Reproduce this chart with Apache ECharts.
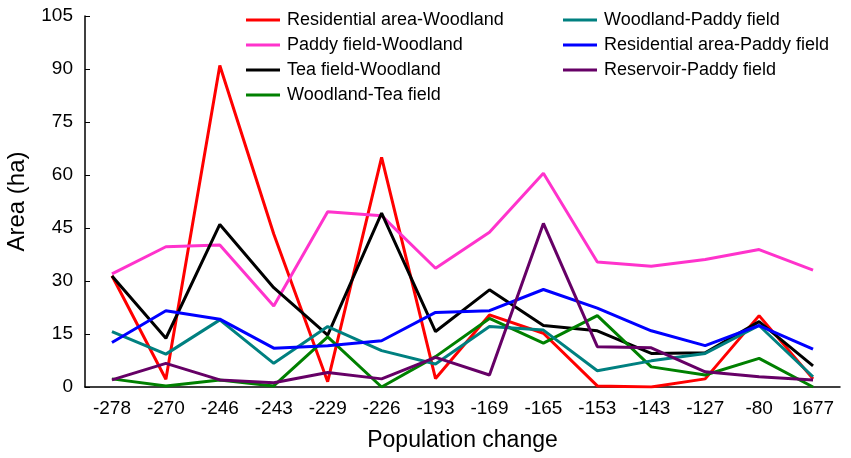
<!DOCTYPE html>
<html>
<head>
<meta charset="utf-8">
<script src="https://cdn.jsdelivr.net/npm/echarts@6/dist/echarts.min.js"></script>
<style>
  html, body { margin: 0; padding: 0; background: #fff; }
  #chart { width: 851px; height: 458px; }
</style>
</head>
<body>
<div id="chart"></div>
<script>
// Population change categories on the x axis
const categories = ['-278', '-270', '-246', '-243', '-229', '-226', '-193', '-169', '-165', '-153', '-143', '-127', '-80', '1677'];

// Area (ha) of each land-use transition
const residentialWoodland = [31.5, 2.2, 91, 43.3, 1.5, 65, 2.4, 20.4, 15.2, 0.3, 0, 2.3, 20.2, 2.3];
const paddyWoodland       = [32, 39.7, 40.2, 22.9, 49.6, 48.5, 33.6, 43.8, 60.5, 35.4, 34.2, 36.1, 38.9, 33.1];
const teaWoodland         = [31.4, 13.8, 46, 28.1, 14.7, 49.2, 15.7, 27.5, 17.4, 15.9, 9.5, 9.7, 18.5, 6];
const woodlandTea         = [2.3, 0.3, 2, 0.3, 14.2, 0, 8.6, 19.4, 12.4, 20.2, 5.7, 3.4, 8.1, 0];
const woodlandPaddy       = [15.7, 9.3, 19, 6.7, 17.1, 10.3, 6.5, 17.1, 16.1, 4.6, 7.4, 9.5, 17.4, 2.9];
const residentialPaddy    = [12.6, 21.6, 19.2, 11, 11.7, 13.1, 21.1, 21.6, 27.6, 22.3, 15.9, 11.7, 17.4, 10.7];
const reservoirPaddy      = [2, 6.7, 2, 1.2, 4.1, 2.3, 8.4, 3.4, 46.3, 11.4, 11.1, 4.3, 2.9, 2];

const yTicks = { min: 0, max: 105, interval: 15 };

const FONT = 'Liberation Sans';

const seriesDefs = [
  { name: 'Residential area-Woodland', data: residentialWoodland, color: '#ff0000' },
  { name: 'Paddy field-Woodland', data: paddyWoodland, color: '#ff33cc' },
  { name: 'Tea field-Woodland', data: teaWoodland, color: '#000000' },
  { name: 'Woodland-Tea field', data: woodlandTea, color: '#008000' },
  { name: 'Woodland-Paddy field', data: woodlandPaddy, color: '#008080' },
  { name: 'Residential area-Paddy field', data: residentialPaddy, color: '#0000ff' },
  { name: 'Reservoir-Paddy field', data: reservoirPaddy, color: '#660066' }
];

// Legend key: a short horizontal stroke centred in a 34x16 box
// (tiny corner specks pin the bounding box so the stroke keeps its thickness)
const strokeIcon = 'path://M0,0L0.02,0L0,0.02Z M0,6.5H34V9.5H0Z M34,16L33.98,16L34,15.98Z';

const legendBase = {
  orient: 'vertical',
  top: 11,
  padding: 0,
  icon: strokeIcon,
  itemWidth: 34,
  itemHeight: 16,
  itemGap: 7,
  textStyle: { fontFamily: FONT, fontSize: 18, color: '#000', padding: [0, 0, 0, 2] },
  selectedMode: false
};

const chart = echarts.init(document.getElementById('chart'), null, { renderer: 'canvas' });

chart.setOption({
  animation: false,
  backgroundColor: '#ffffff',
  legend: [
    Object.assign({}, legendBase, { left: 246, data: seriesDefs.slice(0, 4).map(s => s.name) }),
    Object.assign({}, legendBase, { left: 563, data: seriesDefs.slice(4).map(s => s.name) })
  ],
  grid: { left: 85, right: 11, top: 16, bottom: 71, outerBoundsMode: 'none' },
  xAxis: {
    type: 'category',
    data: categories,
    boundaryGap: true,
    name: 'Population change',
    nameLocation: 'middle',
    nameGap: 42,
    nameTextStyle: { fontFamily: FONT, fontSize: 23, color: '#000' },
    axisLine: { lineStyle: { color: '#000', width: 1.5 } },
    axisTick: { inside: true, length: 5, lineStyle: { color: '#000' } },
    axisLabel: { fontFamily: FONT, fontSize: 19, color: '#000', margin: 12, interval: 0, hideOverlap: false },
    splitLine: { show: false }
  },
  yAxis: {
    type: 'value',
    min: yTicks.min,
    max: yTicks.max,
    interval: yTicks.interval,
    name: 'Area (ha)',
    nameLocation: 'middle',
    nameGap: 56,
    nameTextStyle: { fontFamily: FONT, fontSize: 24, color: '#000' },
    axisLine: { show: true, lineStyle: { color: '#000', width: 1.5 } },
    axisTick: { show: true, inside: true, length: 5, lineStyle: { color: '#000' } },
    axisLabel: { fontFamily: FONT, fontSize: 19, color: '#000', margin: 12 },
    splitLine: { show: false }
  },
  series: seriesDefs.map(s => ({
    name: s.name,
    type: 'line',
    data: s.data,
    symbol: 'none',
    color: s.color,
    lineStyle: { color: s.color, width: 3 }
  }))
});
</script>
</body>
</html>
